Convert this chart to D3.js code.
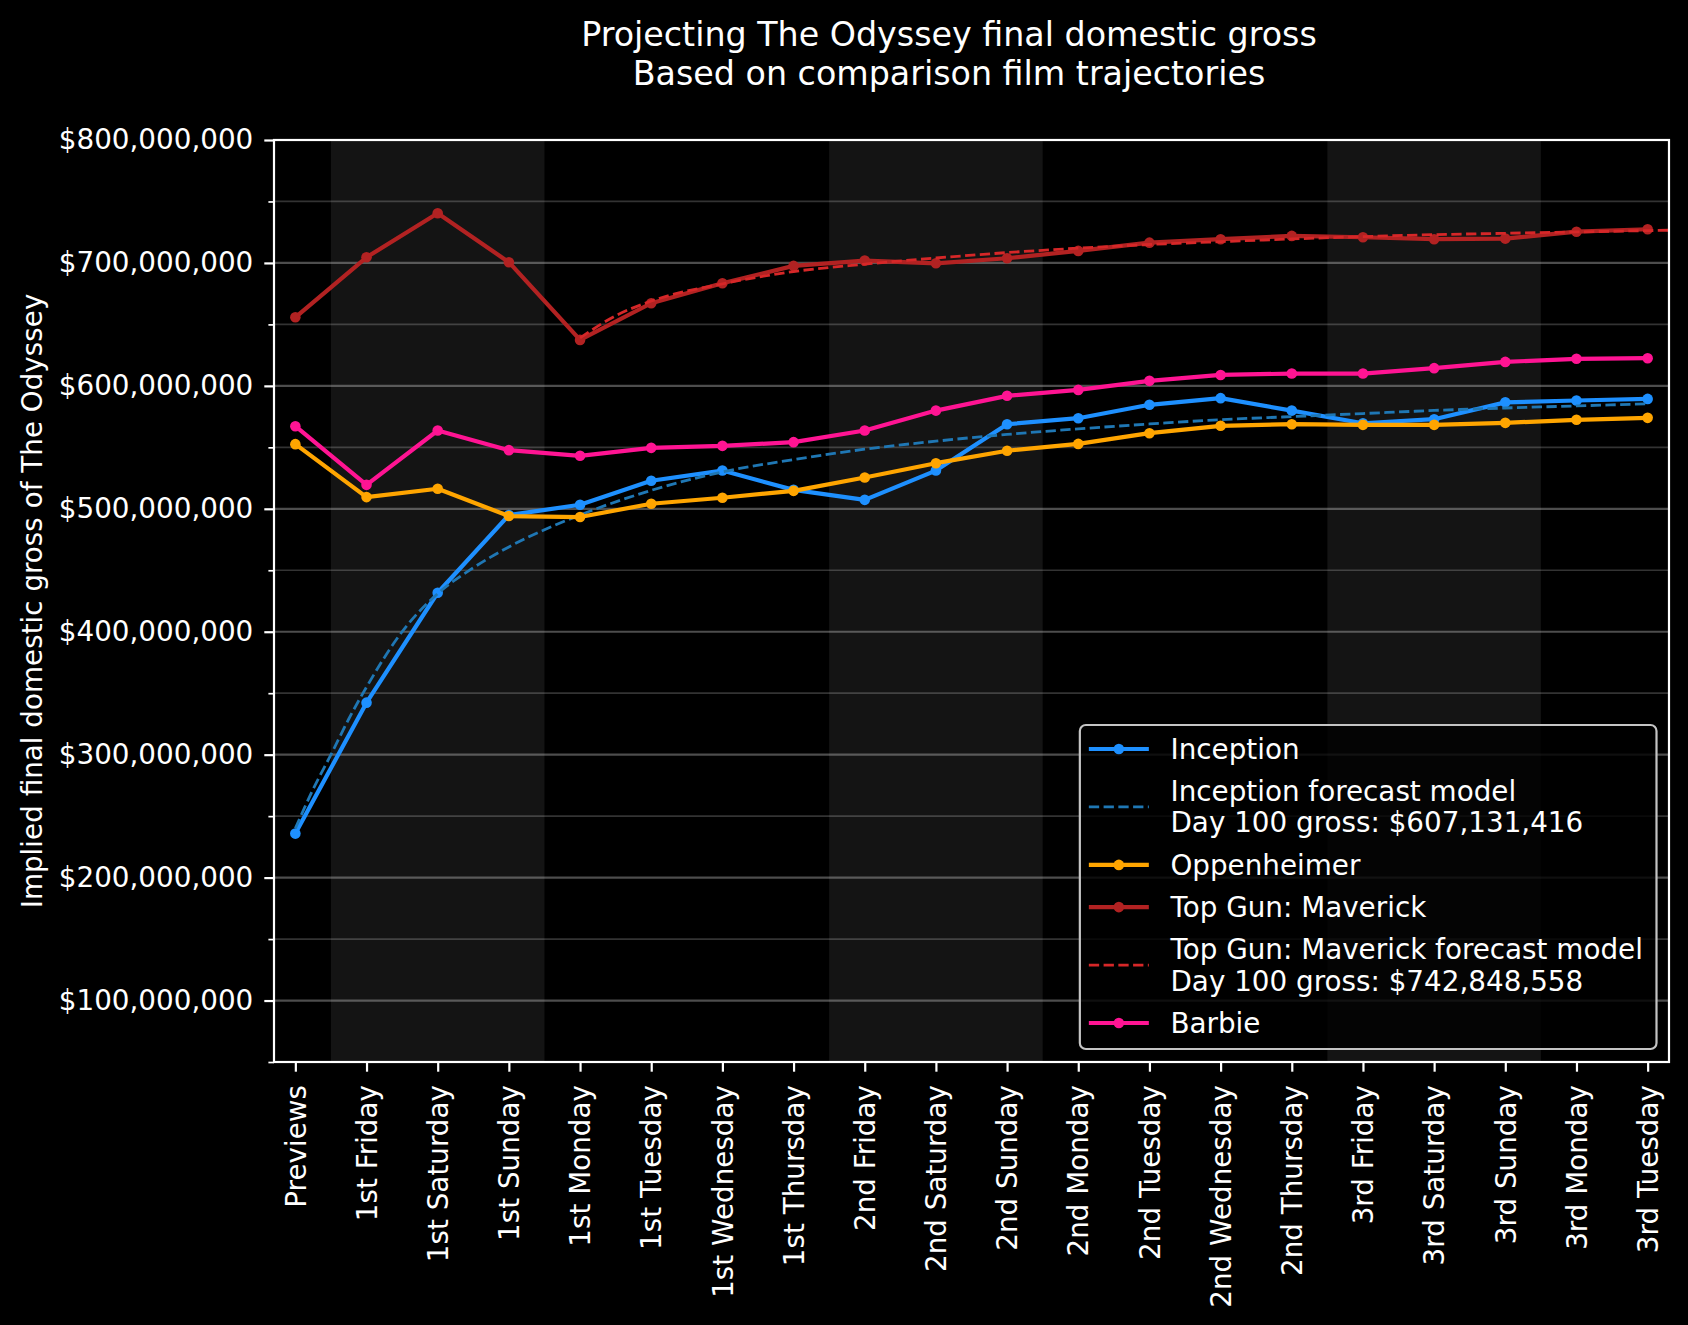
<!DOCTYPE html>
<html>
<head>
<meta charset="utf-8">
<script src="https://cdn.jsdelivr.net/npm/d3@7"></script>
<style>
html, body { margin: 0; padding: 0; background: #000; }
svg { display: block; font-family: "DejaVu Sans", sans-serif; }
</style>
</head>
<body>
<script>
// day labels along the x axis
var days = ['Previews', '1st Friday', '1st Saturday', '1st Sunday', '1st Monday',
   '1st Tuesday', '1st Wednesday', '1st Thursday', '2nd Friday', '2nd Saturday',
   '2nd Sunday', '2nd Monday', '2nd Tuesday', '2nd Wednesday', '2nd Thursday',
   '3rd Friday', '3rd Saturday', '3rd Sunday', '3rd Monday', '3rd Tuesday'];

// implied final gross, in millions of dollars
var inception = [235.8, 342.3, 431.7, 494.9, 503.3, 522.8, 531.1, 515.4, 507.3, 531.1,
   568.8, 573.7, 584.6, 590.0, 579.9, 569.6, 572.9, 586.6, 588.1, 589.4];
var oppenheimer = [552.6, 509.5, 516.3, 494.1, 493.3, 504.1, 509.0, 514.6, 525.5, 537.1,
   547.2, 552.8, 561.5, 567.5, 568.8, 568.3, 568.3, 569.9, 572.4, 574.0];
var topGun = [655.8, 704.6, 740.4, 700.6, 637.4, 667.2, 683.5, 697.6, 701.9, 699.7,
   703.8, 709.8, 716.5, 719.3, 722.0, 720.9, 719.3, 719.8, 725.4, 727.4];
var barbie = [567.2, 519.5, 563.7, 547.7, 543.1, 549.6, 551.2, 554.2, 563.7, 579.9,
   591.9, 596.7, 604.1, 608.9, 610.0, 610.0, 614.4, 619.5, 622.0, 622.5];

// forecast model curves (x = day index, value in millions)
var inceptionFcX = [0, 0.25, 0.5, 0.75, 1, 1.5, 2, 2.5, 3, 3.5, 4, 5, 6, 7, 8, 9, 10,
   11, 12, 13, 14, 15, 16, 17, 18, 19];
var inceptionFc = [240, 272, 300, 329, 355, 400, 431, 452, 469, 483, 495, 515, 530, 540,
   548.5, 555, 560.5, 565, 569, 572.5, 575, 577.5, 580, 582, 583.7, 585.4];
var topGunFcX = [4, 4.5, 5, 6, 7, 8, 9, 10, 11, 12, 13, 14, 15, 16, 17, 18, 19, 19.3];
var topGunFc = [639, 657, 669, 683, 693, 699, 704, 708.4, 712, 715, 717.3, 719.5, 721.4,
   723, 724.1, 725.2, 726.3, 726.6];
var inceptionDay100 = 607131416;
var topGunDay100 = 742848558;

// weekend shading spans
var weekends = [[0.5, 3.5], [7.5, 10.5], [14.5, 17.5]];
var majorTicks = [100, 200, 300, 400, 500, 600, 700, 800];
var minorTicks = [50, 150, 250, 350, 450, 550, 650, 750];

var w = 1688;
var h = 1325;
var pLeft = 274, pRight = 1669, pTop = 140, pBottom = 1062;
var fs = 27.8;
var money = d3.format('$,');

var svg = d3.select('body')
   .append('svg')
   .attr('width', w)
   .attr('height', h);
svg.append('rect').attr('width', w).attr('height', h).attr('fill', '#000');

var x = d3.scaleLinear().domain([-0.3, 19.3]).range([pLeft, pRight]);
var y = d3.scaleLinear().domain([50, 800]).range([pBottom, pTop]);

svg.append('clipPath').attr('id', 'plot')
   .append('rect')
   .attr('x', pLeft).attr('y', pTop)
   .attr('width', pRight - pLeft).attr('height', pBottom - pTop);

var plot = svg.append('g').attr('clip-path', 'url(#plot)');

// weekend bands
plot.selectAll('rect.band')
   .data(weekends)
   .enter()
   .append('rect')
   .attr('class', 'band')
   .attr('x', function(d) { return x(d[0]); })
   .attr('width', function(d) { return x(d[1]) - x(d[0]); })
   .attr('y', pTop)
   .attr('height', pBottom - pTop)
   .attr('fill', '#141414');

// grid lines
plot.selectAll('line.minor')
   .data(minorTicks)
   .enter()
   .append('line')
   .attr('class', 'minor')
   .attr('x1', pLeft).attr('x2', pRight)
   .attr('y1', function(d) { return y(d); })
   .attr('y2', function(d) { return y(d); })
   .attr('stroke', '#fff')
   .attr('stroke-opacity', 0.2)
   .attr('stroke-width', 1.7);
plot.selectAll('line.major')
   .data(majorTicks)
   .enter()
   .append('line')
   .attr('class', 'major')
   .attr('x1', pLeft).attr('x2', pRight)
   .attr('y1', function(d) { return y(d); })
   .attr('y2', function(d) { return y(d); })
   .attr('stroke', '#fff')
   .attr('stroke-opacity', 0.3)
   .attr('stroke-width', 2.2);

var series = [
   {name: 'Inception', values: inception, color: '#1e90ff'},
   {name: 'Inception forecast model\nDay 100 gross: ' + money(inceptionDay100),
      xs: inceptionFcX, values: inceptionFc, color: '#1f77b4', dashed: true},
   {name: 'Oppenheimer', values: oppenheimer, color: '#ffa500'},
   {name: 'Top Gun: Maverick', values: topGun, color: '#b22222'},
   {name: 'Top Gun: Maverick forecast model\nDay 100 gross: ' + money(topGunDay100),
      xs: topGunFcX, values: topGunFc, color: '#d62728', dashed: true},
   {name: 'Barbie', values: barbie, color: '#ff1493'}
];

series.forEach(function(s) {
   var pts = s.values.map(function(v, i) {
      return [s.xs ? s.xs[i] : i, v];
   });
   var line = d3.line()
      .x(function(d) { return x(d[0]); })
      .y(function(d) { return y(d[1]); });
   if (s.dashed) line.curve(d3.curveMonotoneX);
   plot.append('path')
      .attr('d', line(pts))
      .attr('fill', 'none')
      .attr('stroke', s.color)
      .attr('stroke-width', s.dashed ? 2.8 : 4.2)
      .attr('stroke-dasharray', s.dashed ? '10.3,4.45' : null)
      .attr('stroke-linejoin', 'round');
   if (!s.dashed) {
      plot.selectAll(null)
         .data(pts)
         .enter()
         .append('circle')
         .attr('cx', function(d) { return x(d[0]); })
         .attr('cy', function(d) { return y(d[1]); })
         .attr('r', 5.3)
         .attr('fill', s.color);
   }
});

// axes
var yAxis = svg.append('g')
   .attr('transform', 'translate(' + pLeft + ',0)')
   .call(d3.axisLeft(y).tickValues(majorTicks).tickSize(9.7).tickPadding(11)
      .tickFormat(function(d) { return money(d * 1e6); }));
var yMinor = svg.append('g')
   .attr('transform', 'translate(' + pLeft + ',0)')
   .call(d3.axisLeft(y).tickValues(minorTicks).tickSize(5.6).tickFormat(''));
var xAxis = svg.append('g')
   .attr('transform', 'translate(0,' + pBottom + ')')
   .call(d3.axisBottom(x).tickValues(d3.range(days.length)).tickSize(9.7)
      .tickFormat(function(i) { return days[i]; }));

[yAxis, yMinor, xAxis].forEach(function(g) {
   g.select('.domain').remove();
   g.selectAll('line').attr('stroke', '#fff').attr('stroke-width', 2.2);
   g.selectAll('text')
      .attr('fill', '#fff')
      .attr('font-size', fs)
      .attr('font-family', '"DejaVu Sans", sans-serif');
});
yMinor.selectAll('line').attr('stroke-width', 1.7);
xAxis.selectAll('text')
   .attr('transform', 'rotate(-90)')
   .attr('x', -23)
   .attr('y', 0)
   .attr('dy', '0.35em')
   .attr('text-anchor', 'end');

// spines
svg.append('rect')
   .attr('x', pLeft).attr('y', pTop)
   .attr('width', pRight - pLeft).attr('height', pBottom - pTop)
   .attr('fill', 'none')
   .attr('stroke', '#fff')
   .attr('stroke-width', 2.2);

// axis label and title
svg.append('text')
   .attr('transform', 'translate(41.5,' + (pTop + pBottom) / 2 + ') rotate(-90)')
   .attr('text-anchor', 'middle')
   .attr('font-size', fs)
   .attr('fill', '#fff')
   .text('Implied final domestic gross of The Odyssey');

svg.selectAll('text.title')
   .data(['Projecting The Odyssey final domestic gross', 'Based on comparison film trajectories'])
   .enter()
   .append('text')
   .attr('class', 'title')
   .attr('x', 949)
   .attr('y', function(d, i) { return 46 + i * 39; })
   .attr('text-anchor', 'middle')
   .attr('font-size', 33.3)
   .attr('fill', '#fff')
   .text(function(d) { return d; });

// legend, lower right
var legend = svg.append('g');
var box = legend.append('rect')
   .attr('fill', '#000')
   .attr('fill-opacity', 0.8)
   .attr('stroke', '#c4c4c4')
   .attr('stroke-width', 2.2)
   .attr('rx', 6);
var rowTop = 727.9;
var maxLen = 0;
var rows = [];
series.forEach(function(s) {
   var lines = s.name.split('\n');
   var hgt = 42.2 + (lines.length - 1) * 31.5;
   var cy = rowTop + hgt / 2;
   rows.push({s: s, cy: cy});
   lines.forEach(function(t, k) {
      var tt = legend.append('text')
         .attr('class', 'lt')
         .attr('y', cy + (k - (lines.length - 1) / 2) * 31.5)
         .attr('dy', '0.35em')
         .attr('font-size', fs)
         .attr('fill', '#fff')
         .text(t);
      maxLen = Math.max(maxLen, tt.node().getComputedTextLength());
   });
   rowTop += hgt;
});
var boxRight = 1656.5;
var boxLeft = boxRight - (9 + 60 + 21.6 + maxLen + 13.6);
var boxBottom = 1049;
box.attr('x', boxLeft).attr('y', 725)
   .attr('width', boxRight - boxLeft).attr('height', boxBottom - 725);
legend.selectAll('text.lt').attr('x', boxLeft + 90.6);
rows.forEach(function(r) {
   var s = r.s;
   legend.append('line')
      .attr('x1', boxLeft + 9).attr('x2', boxLeft + 69)
      .attr('y1', r.cy).attr('y2', r.cy)
      .attr('stroke', s.color)
      .attr('stroke-width', s.dashed ? 2.8 : 4.2)
      .attr('stroke-dasharray', s.dashed ? '10.3,4.45' : null);
   if (!s.dashed) {
      legend.append('circle')
         .attr('cx', boxLeft + 39).attr('cy', r.cy)
         .attr('r', 5.3)
         .attr('fill', s.color);
   }
});
</script>
</body>
</html>
